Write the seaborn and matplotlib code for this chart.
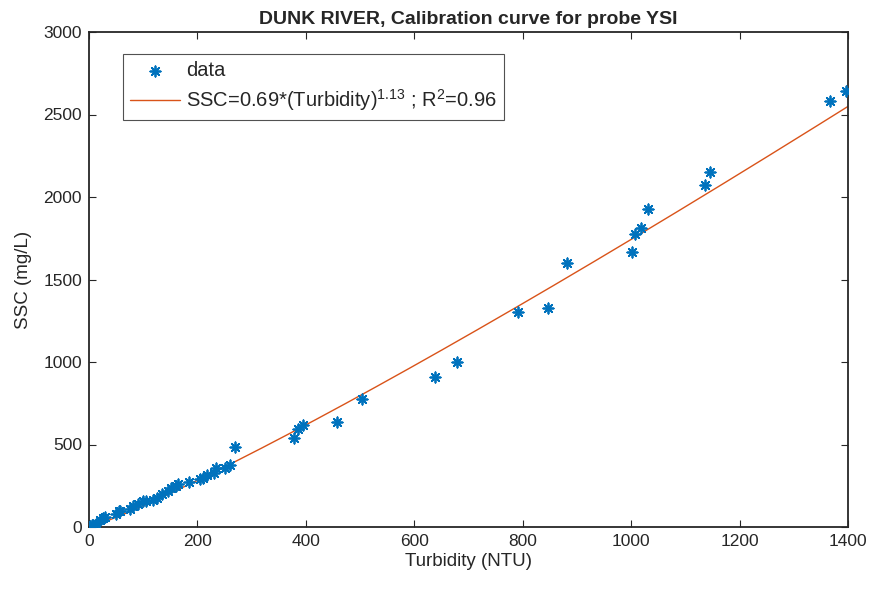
import numpy as np
import pandas as pd
import seaborn as sns
import matplotlib.pyplot as plt

# turbidity (NTU) and SSC (mg/L)
turbidity = [2, 5, 8, 12, 20, 26, 30, 50, 55, 58, 75, 82, 90, 100, 105, 118, 125,
             135, 145, 152, 160, 165, 185, 205, 210, 218, 230, 235, 250, 260, 270,
             378, 386, 394, 458, 504, 638, 679, 792, 847, 882, 1001, 1007, 1018,
             1032, 1136, 1146, 1367, 1396]
ssc = [5, 10, 15, 20, 40, 55, 62, 80, 95, 100, 110, 125, 140, 155, 160, 165, 175,
       200, 220, 235, 250, 258, 270, 290, 300, 315, 330, 355, 360, 375, 487,
       538, 594, 618, 638, 778, 911, 1002, 1301, 1329, 1600, 1668, 1776, 1810,
       1929, 2073, 2153, 2584, 2642]

# power law fit
coef = 0.71
expo = 1.13

df = pd.DataFrame({"Turbidity": turbidity, "SSC": ssc})
fit_x = np.linspace(0, 1400, 300)
fit = pd.DataFrame({"Turbidity": fit_x, "SSC": coef * fit_x ** expo})

sns.set_style("ticks")
plt.rcParams["font.family"] = ["Liberation Sans", "DejaVu Sans"]
plt.rcParams["mathtext.default"] = "regular"

fig = plt.figure(figsize=(8.71, 5.92), dpi=100)
ax = fig.add_axes([89 / 871, 1 - 527 / 592, 759 / 871, 495 / 592])

sns.scatterplot(data=df, x="Turbidity", y="SSC", ax=ax, marker=(8, 2, 0),
                s=55, color="#0072BD", edgecolor="#0072BD", linewidth=1.3,
                label="data", zorder=3)
sns.lineplot(data=fit, x="Turbidity", y="SSC", ax=ax, color="#D95319", lw=1,
             label="SSC=0.69*(Turbidity)$^{1.13}$ ; R$^2$=0.96")

ax.set_xlim(0, 1400)
ax.set_ylim(0, 3000)
ax.set_xticks(range(0, 1401, 200))
ax.set_yticks(range(0, 3001, 500))
ax.tick_params(direction="in", top=True, right=True, labelsize=12.5, length=5,
               width=0.8, pad=5)
for s in ax.spines.values():
    s.set_visible(True)
    s.set_linewidth(1.3)

ax.set_xlabel("Turbidity (NTU)", fontsize=13.5, labelpad=3)
ax.set_ylabel("SSC (mg/L)", fontsize=13.5, labelpad=8)
ax.set_title("DUNK RIVER, Calibration curve for probe YSI", fontsize=14,
             fontweight="bold", pad=6)

leg = ax.legend(loc="upper left", bbox_to_anchor=(0.0448, 0.9556), borderaxespad=0,
                fontsize=14.5, frameon=True, fancybox=False, edgecolor="#262626",
                handlelength=2.5, handletextpad=0.3, borderpad=0.35,
                labelspacing=0.35)
leg.get_frame().set_linewidth(0.8)

fig.savefig("out.png", dpi=100)
